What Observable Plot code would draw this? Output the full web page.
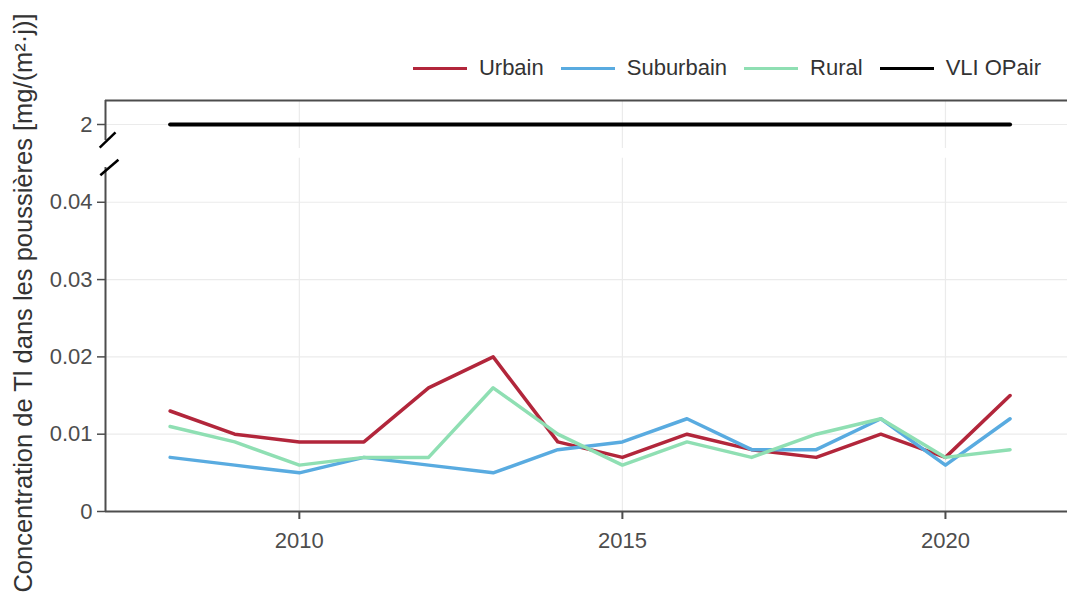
<!DOCTYPE html>
<html><head><meta charset="utf-8">
<script src="https://cdn.jsdelivr.net/npm/d3@7"></script>
<script src="https://cdn.jsdelivr.net/npm/@observablehq/plot@0.6"></script>
<style>
body{margin:0;background:#fff;font-family:"Liberation Sans",Arial,sans-serif;}
#wrap{position:relative;width:1067px;height:597px;}
#legend{position:absolute;top:55px;right:26px;display:flex;align-items:center;gap:17px;font-size:22px;color:#333;}
.item{display:flex;align-items:center;gap:12px}
.sw{width:54px;height:3px}
</style></head><body><div id="wrap"><div id="chart"></div><div id="legend"></div></div>
<script>
const years = [2008,2009,2010,2011,2012,2013,2014,2015,2016,2017,2018,2019,2020,2021];
const urbain    = [0.013,0.010,0.009,0.009,0.016,0.020,0.009,0.007,0.010,0.008,0.007,0.010,0.007,0.015];
const suburbain = [0.007,0.006,0.005,0.007,0.006,0.005,0.008,0.009,0.012,0.008,0.008,0.012,0.006,0.012];
const rural     = [0.011,0.009,0.006,0.007,0.007,0.016,0.010,0.006,0.009,0.007,0.010,0.012,0.007,0.008];
const vliYears = [2008, 2021];
const vliValue = 2;
const seriesNames = ["Urbain","Suburbain","Rural","VLI OPair"];
const seriesColors = ["#b2263b","#59abe0","#8fdfb3","#000000"];
const yTicks = [0,0.01,0.02,0.03,0.04,2];
const xTicks = [2010,2015,2020];
const yLabel = "Concentration de Tl dans les poussières [mg/(m²·j)]";

const rows = [];
[urbain, suburbain, rural].forEach((vals, i) => {
  years.forEach((y, j) => rows.push({year: y, value: vals[j], series: seriesNames[i]}));
});
const vliRows = vliYears.map(y => ({year: y, value: vliValue, series: "VLI OPair"}));

// broken axis: lower panel [0, 0.0457], upper panel [1.9, 2.1]
const yDomain = [0, 0.0457, 1.9, 2.1];
const yRange = [511, 157.7, 148, 100];
const breaks = [
  {x1: 2006.91, y1: 1.904, x2: 2007.155, y2: 1.967},
  {x1: 2006.92, y1: 0.0435, x2: 2007.2, y2: 0.0455}
];
const axisCol = "#4d4d4d";
const gridCol = "#ebebeb";

const chart = Plot.plot({
  width: 1067, height: 597,
  marginLeft: 105, marginRight: 0, marginTop: 100, marginBottom: 86,
  style: {fontFamily: '"Liberation Sans", Arial, sans-serif', fontSize: "22px", color: "#4d4d4d", background: "#fff"},
  x: {domain: [2007, 2021.889], label: null},
  y: {type: "linear", domain: yDomain, range: yRange, label: null},
  color: {domain: seriesNames, range: seriesColors},
  marks: [
    Plot.ruleY(yTicks, {stroke: gridCol, strokeWidth: 1.2}),
    Plot.ruleX(xTicks, {y1: 0, y2: 0.0457, stroke: gridCol, strokeWidth: 1.2}),
    Plot.ruleX(xTicks, {y1: 1.9, y2: 2.1, stroke: gridCol, strokeWidth: 1.2}),
    Plot.ruleY([0], {stroke: axisCol, strokeWidth: 2}),
    Plot.ruleY([2.1], {stroke: axisCol, strokeWidth: 2}),
    Plot.ruleX([2007], {y1: 0, y2: 0.0445, stroke: axisCol, strokeWidth: 2}),
    Plot.ruleX([2007], {y1: 1.933, y2: 2.1, stroke: axisCol, strokeWidth: 2}),
    Plot.link(breaks, {x1: "x1", y1: "y1", x2: "x2", y2: "y2", stroke: "#000", strokeWidth: 2.5}),
    Plot.axisX({ticks: xTicks, tickFormat: "d", tickSize: 8, tickPadding: 13, stroke: axisCol, fill: axisCol, strokeWidth: 2, label: null}),
    Plot.axisY({ticks: yTicks, tickFormat: d => String(d), tickSize: 8, tickPadding: 5, stroke: axisCol, fill: axisCol, strokeWidth: 1.5, label: null}),
    Plot.line(rows, {x: "year", y: "value", z: "series", stroke: "series", strokeWidth: 3.5}),
    Plot.line(vliRows, {x: "year", y: "value", stroke: "series", strokeWidth: 4}),
    Plot.text([yLabel], {text: d => d, frameAnchor: "left", textAnchor: "middle", dx: -82, dy: -3, rotate: -90, fontSize: 25.5, fill: "#333"})
  ]
});
document.getElementById("chart").appendChild(chart);

const legend = document.getElementById("legend");
seriesNames.forEach((n, i) => {
  const it = document.createElement("div");
  it.className = "item";
  const sw = document.createElement("div");
  sw.className = "sw";
  sw.style.background = seriesColors[i];
  const t = document.createElement("span");
  t.textContent = n;
  it.appendChild(sw); it.appendChild(t);
  legend.appendChild(it);
});
</script></body></html>
